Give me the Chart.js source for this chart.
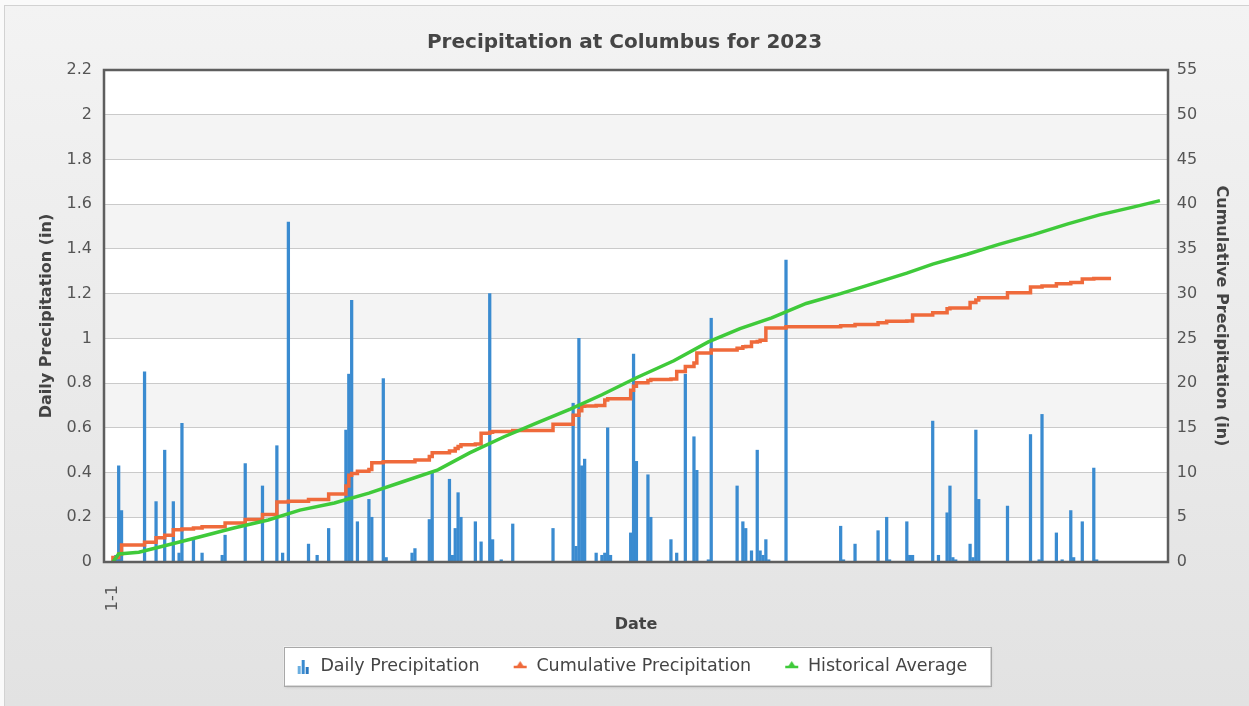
<!DOCTYPE html>
<html>
<head>
<meta charset="utf-8">
<script src="https://cdn.jsdelivr.net/npm/chart.js@4.4.1/dist/chart.umd.min.js"></script>
<style>
html,body{margin:0;padding:0;background:#efefef;overflow:hidden}
#wrap{width:1249px;height:706px;position:relative}
</style>
</head>
<body>
<div id="wrap"><canvas id="c" width="1249" height="706"></canvas></div>
<script>
// ---- data (day of year) ----
const rainDays = [2,3,4,12,16,19,22,24,25,29,32,39,40,47,53,58,60,62,69,72,76,82,83,84,86,90,91,95,96,105,106,111,112,118,119,120,121,122,127,129,132,133,136,140,154,161,162,163,164,165,169,171,172,173,174,181,182,183,187,188,195,197,200,203,204,208,209,218,220,221,223,225,226,227,228,229,235,254,255,259,267,270,271,277,278,279,286,288,291,292,293,294,299,300,301,302,312,320,323,324,329,331,334,335,338,342,343];
const rainAmounts = [0.03,0.43,0.23,0.85,0.27,0.50,0.27,0.04,0.62,0.10,0.04,0.03,0.12,0.44,0.34,0.52,0.04,1.52,0.08,0.03,0.15,0.59,0.84,1.17,0.18,0.28,0.20,0.82,0.02,0.04,0.06,0.19,0.40,0.37,0.03,0.15,0.31,0.20,0.18,0.09,1.20,0.10,0.01,0.17,0.15,0.71,0.07,1.00,0.43,0.46,0.04,0.03,0.04,0.60,0.03,0.13,0.93,0.45,0.39,0.20,0.10,0.04,0.84,0.56,0.41,0.01,1.09,0.34,0.18,0.15,0.05,0.50,0.05,0.03,0.10,0.01,1.35,0.16,0.01,0.08,0.14,0.20,0.01,0.18,0.03,0.03,0.63,0.03,0.22,0.34,0.02,0.01,0.08,0.02,0.59,0.28,0.25,0.57,0.01,0.66,0.13,0.01,0.23,0.02,0.18,0.42,0.01];

const cumDays = [1,3,4,12,16,19,22,25,29,32,40,47,53,58,62,69,76,82,83,84,86,90,91,95,106,111,112,118,120,121,122,127,129,132,133,140,154,161,163,164,165,169,172,173,181,182,183,187,188,195,197,200,203,204,209,218,220,221,223,225,226,228,235,254,259,267,270,277,279,286,291,292,299,301,302,312,320,324,329,334,338,342,348];
const cumValues = [0.05,0.5,0.9,1.9,2.2,2.7,3.0,3.6,3.7,3.8,3.95,4.35,4.75,5.3,6.7,6.8,7.0,7.6,8.5,9.7,9.9,10.15,10.35,11.1,11.2,11.4,11.8,12.2,12.4,12.7,12.9,13.1,13.2,14.4,14.5,14.6,14.7,15.4,16.4,16.9,17.4,17.45,17.5,18.1,18.25,19.2,19.65,20.05,20.3,20.4,20.45,21.3,21.85,22.25,23.35,23.7,23.9,24.05,24.1,24.6,24.65,24.8,26.15,26.3,26.4,26.55,26.75,26.9,26.95,27.6,27.85,28.3,28.4,29.0,29.3,29.55,30.1,30.75,30.85,31.1,31.25,31.65,31.7];

const avgDays = [1,3,10,20,31,43,55,66,78,90,102,114,125,137,148,160,171,183,196,208,219,230,242,254,265,277,286,298,309,321,333,344,356,365];
const avgValues = [0,0.9,1.1,1.9,2.8,3.8,4.7,5.8,6.6,7.7,9.0,10.3,12.2,14.0,15.5,17.1,18.7,20.6,22.5,24.6,26.1,27.3,28.9,30.0,31.1,32.3,33.3,34.4,35.5,36.6,37.8,38.8,39.7,40.4];

const xTickDays = [1];
const xTickLabels = ['1-1'];
const seriesLabels = ['Daily Precipitation','Cumulative Precipitation','Historical Average'];
const chartTitle = 'Precipitation at Columbus for 2023';

// ---- styling ----
const F = '"DejaVu Sans", Verdana, sans-serif';
const BLUE = '#3a8bd0', RED = '#ef6a3b', GREEN = '#3fca3a';

function makeIcon(kind, color){
  const c = document.createElement('canvas');
  c.width = 30; c.height = 18;
  const g = c.getContext('2d');
  const ox = 15;
  if (kind === 'bar'){
    g.fillStyle = '#6aaee0'; g.fillRect(ox+1, 9, 3, 8);
    g.fillStyle = color; g.fillRect(ox+5, 3, 3, 14);
    g.fillStyle = '#2a78c0'; g.fillRect(ox+9, 10, 3, 7);
  } else {
    g.strokeStyle = color; g.lineWidth = 2.5;
    g.beginPath(); g.moveTo(ox+1, 10); g.lineTo(ox+14, 10); g.stroke();
    g.fillStyle = color;
    g.beginPath(); g.moveTo(ox+7.5, 4); g.lineTo(ox+12, 11); g.lineTo(ox+3, 11); g.closePath(); g.fill();
  }
  return c;
}
const legendIcons = [makeIcon('bar', BLUE), makeIcon('line', RED), makeIcon('line', GREEN)];

const decor = {
  id: 'decor',
  beforeDraw(chart){
    const ctx = chart.ctx, W = chart.width, H = chart.height, a = chart.chartArea;
    ctx.save();
    ctx.fillStyle = '#fafafa'; ctx.fillRect(0,0,W,H);
    const grd = ctx.createLinearGradient(0,5,0,H);
    grd.addColorStop(0,'#f3f3f3'); grd.addColorStop(1,'#e2e2e2');
    ctx.fillStyle = grd; ctx.fillRect(4,5,W-4,H-5);
    ctx.strokeStyle = '#d2d2d2'; ctx.lineWidth = 1; ctx.strokeRect(4.5,5.5,W,H);
    // alternating bands
    const ys = chart.scales.y; const t = ys.ticks;
    for (let i = 0; i < t.length-1; i++){
      const y0 = ys.getPixelForValue(t[i].value), y1 = ys.getPixelForValue(t[i+1].value);
      ctx.fillStyle = (i % 2 === 0) ? '#ffffff' : '#f4f4f4';
      ctx.fillRect(a.left, y1, a.right-a.left, y0-y1);
    }
    // legend box
    const lg = chart.legend;
    if (lg && lg.lineWidths){
      const p = lg.options.labels.padding, L = lg.lineWidths[0];
      const fs = lg.options.labels.font.size;
      const start = (lg.left + lg.right + p - L)/2, end = start + L - p;
      const cy = lg.top + p + fs/2;
      const x0 = start + 2, x1 = end + 23, y0 = cy - 19.5;
      ctx.shadowColor = 'rgba(0,0,0,0.3)'; ctx.shadowBlur = 3; ctx.shadowOffsetX = 1; ctx.shadowOffsetY = 1;
      ctx.fillStyle = '#ffffff'; ctx.fillRect(x0, y0, x1-x0, 39);
      ctx.shadowColor = 'transparent';
      ctx.strokeStyle = '#a8a8a8'; ctx.lineWidth = 1;
      ctx.strokeRect(Math.round(x0)+0.5, Math.round(y0)+0.5, Math.round(x1-x0), 39);
    }
    ctx.restore();
  },
  afterDatasetsDraw(chart){
    const ctx = chart.ctx, a = chart.chartArea;
    ctx.save();
    ctx.strokeStyle = '#5e5e5e'; ctx.lineWidth = 2.5;
    ctx.strokeRect(a.left, a.top, a.right-a.left, a.bottom-a.top);
    ctx.restore();
  }
};

const tickFont = {family: F, size: 16};
const titleFont = {family: F, size: 16, weight: 'bold'};
const plainNum = (v) => String(parseFloat(Number(v).toFixed(2)));

new Chart(document.getElementById('c'), {
  type: 'bar',
  data: {
    datasets: [
      {
        type: 'bar', label: seriesLabels[0], yAxisID: 'y', order: 3,
        data: rainDays.map((d,i) => ({x: d, y: rainAmounts[i]})),
        backgroundColor: BLUE, borderWidth: 0, barThickness: 2.6
      },
      {
        type: 'line', label: seriesLabels[1], yAxisID: 'y2', order: 2,
        data: cumDays.map((d,i) => ({x: d, y: cumValues[i]})),
        borderColor: RED, backgroundColor: RED, borderWidth: 3.5, pointRadius: 0,
        stepped: 'after', fill: false
      },
      {
        type: 'line', label: seriesLabels[2], yAxisID: 'y2', order: 1,
        data: avgDays.map((d,i) => ({x: d, y: avgValues[i]})),
        borderColor: GREEN, backgroundColor: GREEN, borderWidth: 3.5, pointRadius: 0,
        tension: 0, fill: false
      }
    ]
  },
  options: {
    responsive: false, animation: false, devicePixelRatio: 1,
    layout: {padding: {left: 0, right: 0, top: 0, bottom: 21.25}},
    plugins: {
      title: {display: true, text: chartTitle, color: '#454545',
        font: {family: F, size: 20, weight: 'bold'}, padding: {top: 31, bottom: 15}},
      legend: {display: true, position: 'bottom', fullSize: true,
        labels: {usePointStyle: true, pointStyleWidth: 30, padding: 18, color: '#444',
          font: {family: F, size: 17.5},
          generateLabels: (chart) => {
            const items = Chart.defaults.plugins.legend.labels.generateLabels(chart);
            items.sort((a, b) => a.datasetIndex - b.datasetIndex);
            items.forEach((it) => { it.pointStyle = legendIcons[it.datasetIndex]; });
            return items;
          }}},
      tooltip: {enabled: false}
    },
    scales: {
      x: {
        type: 'linear', min: -2.1, max: 367.8, offset: false,
        grid: {display: false}, border: {display: false},
        afterBuildTicks: (s) => { s.ticks = xTickDays.map(v => ({value: v})); },
        ticks: {autoSkip: false, minRotation: 90, maxRotation: 90, padding: 15, color: '#555', font: tickFont,
          callback: (v) => { const i = xTickDays.indexOf(v); return i >= 0 ? xTickLabels[i] : ''; }},
        title: {display: true, text: 'Date', color: '#444', font: titleFont, padding: {top: 0, bottom: 4.65}},
        afterFit: (s) => { s.height = 77.25; }
      },
      y: {
        position: 'left', min: 0, max: 2.2,
        ticks: {stepSize: 0.2, padding: 12, color: '#555', font: tickFont, callback: plainNum},
        grid: {color: '#cacaca', lineWidth: 1, drawTicks: false}, border: {display: false},
        title: {display: true, text: 'Daily Precipitation (in)', color: '#444', font: titleFont, padding: {top: 37.4, bottom: 0}},
        afterFit: (s) => { s.width = 104; }
      },
      y2: {
        position: 'right', min: 0, max: 55,
        ticks: {stepSize: 5, padding: 8.7, color: '#555', font: tickFont, callback: plainNum},
        grid: {display: false, drawTicks: false}, border: {display: false},
        title: {display: true, text: 'Cumulative Precipitation (in)', color: '#444', font: titleFont, padding: {top: 18.4, bottom: 0}},
        afterFit: (s) => { s.width = 81; }
      }
    }
  },
  plugins: [decor]
});
</script>
</body>
</html>
